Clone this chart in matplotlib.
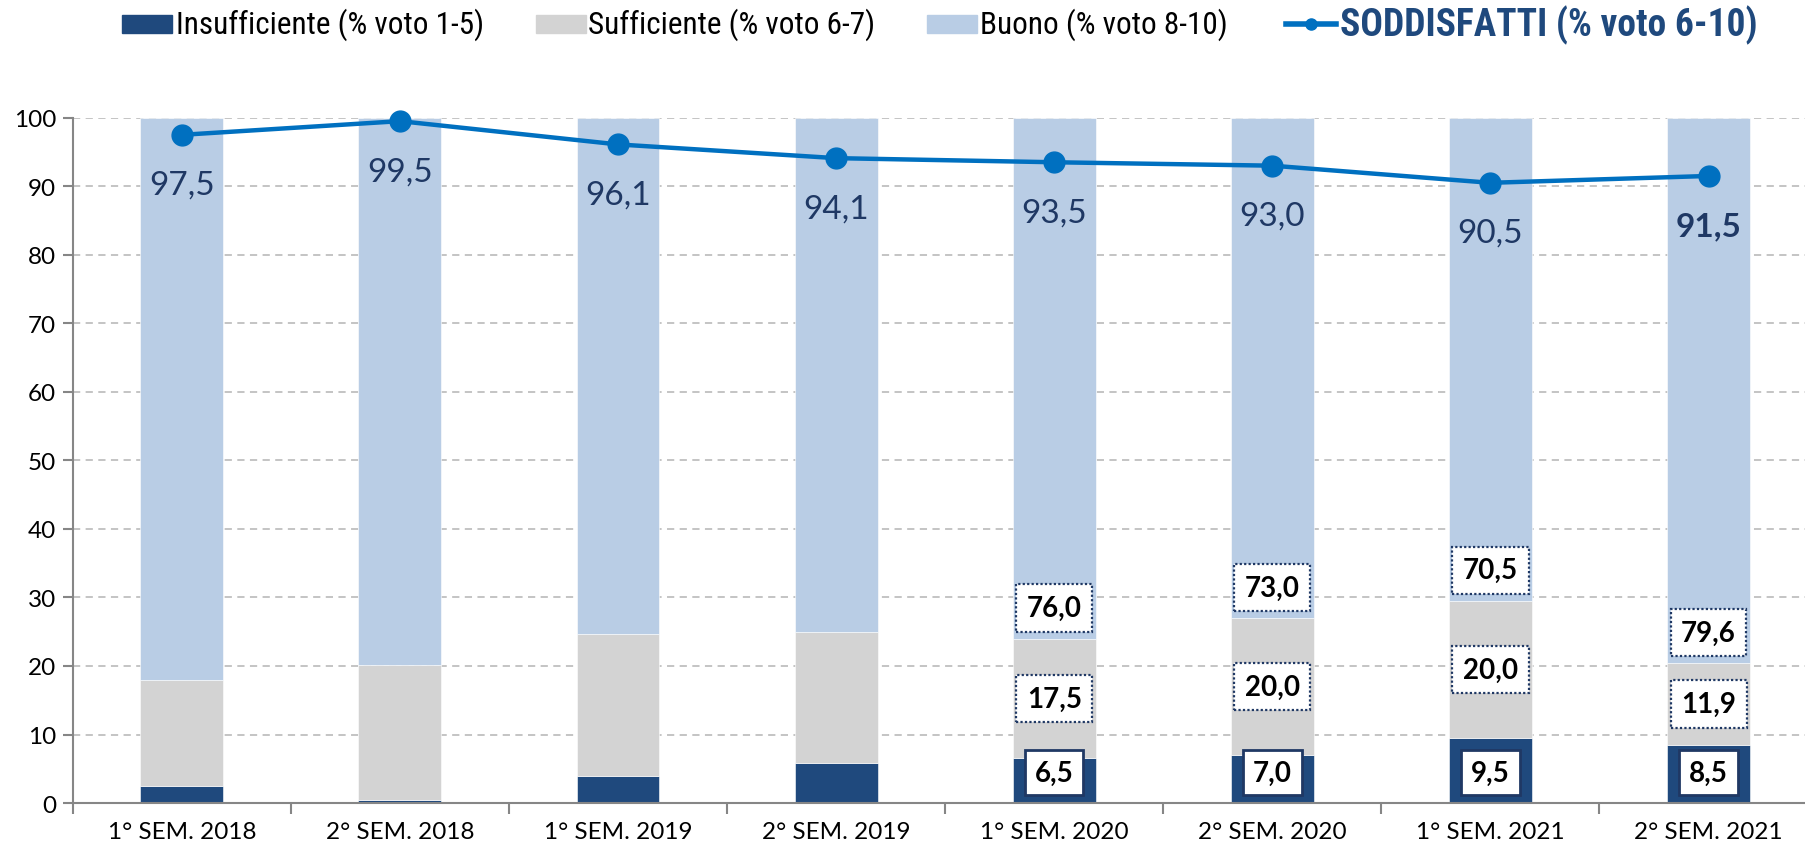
import matplotlib
matplotlib.use('Agg')
import matplotlib.pyplot as plt
from matplotlib import font_manager
from matplotlib.patches import Rectangle
from matplotlib.lines import Line2D
import numpy as np

semestri = ['1° SEM. 2018', '2° SEM. 2018', '1° SEM. 2019', '2° SEM. 2019',
            '1° SEM. 2020', '2° SEM. 2020', '1° SEM. 2021', '2° SEM. 2021']
insufficiente = [2.5, 0.5, 3.9, 5.9, 6.5, 7.0, 9.5, 8.5]
sufficiente = [15.5, 19.7, 20.7, 19.0, 17.5, 20.0, 20.0, 11.9]
buono = [82.0, 79.8, 75.4, 75.1, 76.0, 73.0, 70.5, 79.6]
soddisfatti = [97.5, 99.5, 96.1, 94.1, 93.5, 93.0, 90.5, 91.5]
etichette_da = 4  # labels on the bars only from 1° SEM. 2020

legenda = ['Insufficiente (% voto 1-5)', 'Sufficiente (% voto 6-7)',
           'Buono (% voto 8-10)', 'SODDISFATTI (% voto 6-10)']

names = {f.name for f in font_manager.fontManager.ttflist}
main = 'Lato' if 'Lato' in names else 'DejaVu Sans'
narrow = main
for cand in ['Liberation Sans Narrow', 'Roboto Condensed', 'Open Sans Condensed']:
    if cand in names:
        narrow = cand
        break

c_ins = '#1F497D'
c_suf = '#D3D3D3'
c_buo = '#B9CDE5'
c_line = '#0070C0'
navy = '#1F3864'

W, H = 1806, 854
fig = plt.figure(figsize=(W / 100, H / 100), dpi=100)
ax = fig.add_axes([0.0403, 0.0585, 0.9597, 0.8025])

x = np.arange(len(semestri))
ins = np.array(insufficiente)
suf = np.array(sufficiente)
buo = np.array(buono)
w = 0.38
ax.bar(x, ins, w, color=c_ins, edgecolor='white', linewidth=0.4, zorder=2)
ax.bar(x, suf, w, bottom=ins, color=c_suf, edgecolor='white', linewidth=0.4, zorder=2)
ax.bar(x, buo, w, bottom=ins + suf, color=c_buo, edgecolor='white', linewidth=0.4, zorder=2)

ax.plot(x, soddisfatti, color=c_line, lw=3.2, marker='o', ms=15, zorder=4, clip_on=False)

def lab(v):
    return f'{v:.1f}'.replace('.', ',')

for i, v in enumerate(soddisfatti):
    last = i == len(soddisfatti) - 1
    ax.annotate(lab(v), (x[i], v), xytext=(0, -36),
                textcoords='offset points', ha='center', va='center',
                fontsize=24, color=navy, family=main,
                fontweight='bold' if last else 'normal', zorder=5)

dotted = dict(boxstyle='square,pad=0.38', fc='white', ec=navy, lw=1.6, ls=(0, (1, 1)))
solid = dict(boxstyle='square,pad=0.35', fc='white', ec=navy, lw=2)
for i in range(etichette_da, len(semestri)):
    ax.annotate(lab(ins[i]), (x[i], 0), xytext=(0, 22), textcoords='offset points',
                ha='center', va='center', fontsize=20, fontweight='bold',
                family=main, bbox=solid, zorder=6)
    ax.text(x[i], ins[i] + suf[i] / 2, lab(suf[i]), ha='center', va='center',
            fontsize=20, fontweight='bold', family=main, bbox=dotted, zorder=6)
    ax.annotate(lab(buo[i]), (x[i], ins[i] + suf[i]), xytext=(0, 22),
                textcoords='offset points', ha='center', va='center', fontsize=20,
                fontweight='bold', family=main, bbox=dotted, zorder=6)

ax.set_ylim(0, 100)
ax.set_xlim(-0.5, 7.447)
ax.set_yticks(np.arange(0, 101, 10))
ax.set_xticks(x)
ax.set_xticklabels(semestri, fontsize=17.5, family=main)
ax.set_xticks(np.arange(-0.5, 7.5, 1), minor=True)
ax.tick_params(axis='x', which='major', length=0, pad=13)
ax.tick_params(axis='x', which='minor', length=8, color='#868686', width=1.5)
ax.tick_params(axis='y', length=7, color='#868686', width=1.5, labelsize=17.5, pad=5)
for t in ax.get_yticklabels():
    t.set_family(main)
ax.yaxis.grid(True, color='#BFBFBF', ls=(0, (4, 3)), lw=1.3, zorder=0)
ax.set_axisbelow(True)
for s in ['top', 'right']:
    ax.spines[s].set_visible(False)
for s in ['left', 'bottom']:
    ax.spines[s].set_color('#868686')
    ax.spines[s].set_linewidth(1.5)

# legend drawn by hand at the top (pixel positions of the original)
ly = 1 - 25 / H
for px, col in zip([122, 536, 927], [c_ins, c_suf, c_buo]):
    fig.add_artist(Rectangle((px / W, ly - 9 / H), 50 / W, 18 / H, color=col,
                             transform=fig.transFigure))
fig.add_artist(Line2D([1286 / W, 1336 / W], [ly, ly], color=c_line, lw=4,
                      transform=fig.transFigure))
fig.add_artist(Line2D([1311 / W], [ly], color=c_line, marker='o', ms=8,
                      transform=fig.transFigure))
for px, txt in zip([176, 588, 980, 1340], legenda):
    bold = txt.startswith('SODDISFATTI')
    fig.text(px / W, ly, txt, ha='left', va='center', family=narrow,
             fontsize=27 if bold else 22.5,
             fontweight='heavy' if bold else 'normal',
             color=c_ins if bold else 'black')

fig.savefig('out.png', dpi=100)
